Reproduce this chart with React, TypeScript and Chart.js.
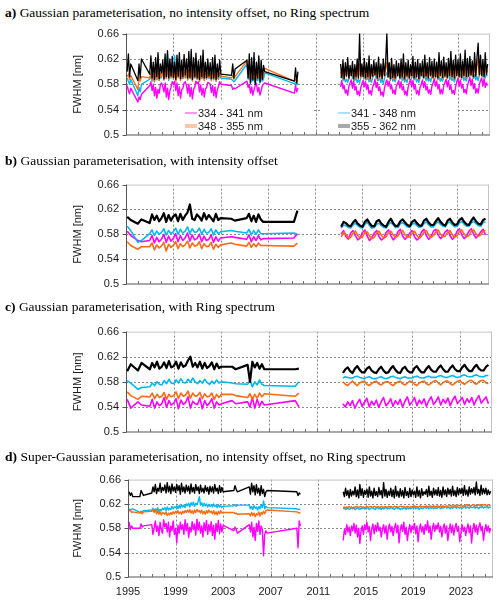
import { useEffect, useRef } from "react";
import { Chart, registerables } from "chart.js";

Chart.register(...registerables);

// ---- axes ----
const X_MIN = 1995;
const X_MAX = 2025.7;
const X_LABEL_YEARS = [1995, 1999, 2003, 2007, 2011, 2015, 2019, 2023];
const X_GRID_YEARS = [1999, 2003, 2007, 2011, 2015, 2019, 2023];
const Y_MIN = 0.5;
const Y_MAX = 0.66;
const Y_TICKS = [0.5, 0.54, 0.58, 0.62, 0.66];
const Y_GRID = [0.54, 0.58, 0.62];
const Y_TITLE = "FWHM [nm]";

// fitting windows, in legend order
const BANDS = ["334 - 341 nm", "341 - 348 nm", "348 - 355 nm", "355 - 362 nm"];

// ---- sampling of the record: [start year, end year, step] ----
type Seg = [number, number, number];
const EARLY_FINE: Seg[] = [
  [1995.1, 1995.4, 0.1], [1996.0, 1996.3, 0.1], [1997.0, 2003.0, 0.1],
  [2003.9, 2004.2, 0.1], [2005.2, 2006.7, 0.1], [2009.2, 2009.5, 0.1],
];
const LATE_FINE: Seg[] = [[2013.1, 2025.5, 0.1]];
const EARLY_COARSE: Seg[] = [
  [1995.1, 1995.4, 0.3], [1996.0, 1996.3, 0.3], [1997.0, 2003.0, 0.2],
  [2003.9, 2004.2, 0.3], [2005.2, 2006.6, 0.2], [2009.2, 2009.5, 0.3],
];
const LATE_COARSE: Seg[] = [[2013.2, 2025.4, 0.2]];
const GAP_YEAR = 2011;

// ---- FWHM values in pm ----
// a) Gaussian, no intensity offset, no Ring
const A_334_EARLY = [
  578, 570, 565, 574,
  552, 560, 556, 564,
  578, 584, 570, 580, 562, 575, 558, 572, 566, 580,
  582, 576, 568, 582, 560, 574, 556, 570, 575, 584,
  580, 585, 570, 582, 562, 576, 558, 571, 574, 582,
  584, 578, 566, 580, 561, 575, 557, 572, 576, 585,
  581, 584, 568, 579, 563, 574, 560, 573, 575, 583,
  582, 580, 567, 578, 562, 576, 559, 571, 577, 584,
  580,
  578, 572, 574, 573,
  585, 575, 580, 566, 576, 563, 572, 578, 582, 568, 575, 563, 570, 578, 580, 582,
  566, 578, 568, 574,
];
const A_334_LATE = [
  576, 586, 573, 578, 566, 571, 563, 577, 582,
  587, 574, 585, 571, 577, 564, 569, 562, 575, 581,
  586, 576, 584, 572, 579, 565, 570, 563, 576, 580,
  588, 575, 583, 570, 576, 563, 568, 561, 574, 582,
  587, 577, 585, 573, 578, 566, 571, 564, 577, 581,
  586, 574, 584, 571, 577, 564, 569, 562, 576, 583,
  588, 576, 586, 572, 579, 565, 570, 563, 575, 580,
  587, 575, 584, 571, 577, 566, 571, 564, 577, 582,
  589, 577, 585, 573, 579, 565, 572, 565, 578, 583,
  588, 576, 586, 572, 578, 566, 570, 564, 576, 584,
  590, 577, 587, 574, 580, 567, 572, 565, 578, 585,
  591, 578, 588, 573, 581, 566, 573, 566, 579, 586,
  590, 577, 589, 575, 582, 578,
];
const A_341_EARLY = [
  590, 585, 580, 588,
  562, 575, 568, 580,
  588, 595, 585, 593, 584, 597, 587, 605, 586, 593,
  590, 610, 587, 622, 589, 628, 586, 615, 590, 600,
  588, 625, 585, 618, 591, 612, 587, 600, 589, 597,
  590, 598, 587, 601, 589, 603, 586, 597, 590, 599,
  588, 596, 585, 599, 589, 601, 587, 595, 588, 597,
  589, 595, 586, 598, 587, 599, 585, 594, 588, 596,
  590,
  588, 586, 584, 586,
  612, 588, 594, 582, 592, 585, 595, 581, 590, 586, 593, 582, 590, 585, 588, 598,
  581, 583, 579, 582,
];
const A_341_LATE = [
  590, 597, 586, 591, 584, 588, 583, 590, 594,
  598, 589, 596, 586, 591, 583, 587, 582, 590, 595,
  597, 590, 595, 587, 592, 584, 588, 583, 591, 594,
  599, 589, 596, 586, 590, 583, 587, 581, 589, 595,
  598, 591, 597, 588, 593, 585, 589, 584, 592, 595,
  597, 589, 596, 586, 591, 584, 588, 583, 591, 596,
  599, 590, 597, 587, 592, 584, 588, 583, 590, 594,
  598, 589, 596, 586, 591, 585, 589, 584, 592, 596,
  600, 591, 597, 588, 593, 585, 590, 585, 593, 597,
  599, 590, 598, 587, 592, 586, 589, 584, 591, 597,
  601, 592, 598, 589, 594, 586, 591, 585, 593, 598,
  602, 593, 600, 589, 595, 587, 592, 586, 594, 599,
  601, 592, 600, 590, 596, 594,
];
const A_348_EARLY = [
  592, 596, 588, 594,
  572, 590, 585, 592,
  590, 598, 586, 596, 584, 600, 588, 602, 586, 597,
  592, 600, 587, 604, 590, 606, 588, 600, 591, 603,
  589, 598, 585, 602, 590, 605, 586, 599, 589, 601,
  591, 600, 587, 604, 589, 606, 585, 600, 590, 603,
  588, 598, 585, 602, 589, 605, 586, 597, 589, 600,
  590, 597, 586, 601, 588, 603, 585, 596, 589, 599,
  593,
  590, 594, 588, 592,
  617, 592, 605, 586, 600, 588, 604, 584, 598, 589, 602, 585, 599, 588, 596, 605,
  585, 588, 583, 586,
];
const A_348_LATE = [
  600, 590, 606, 587, 602, 592, 610, 588, 600,
  594, 605, 586, 602, 590, 608, 588, 612, 590, 603,
  592, 607, 587, 603, 589, 610, 585, 602, 591, 606,
  594, 604, 586, 609, 590, 603, 587, 607, 592, 605,
  615, 591, 603, 586, 608, 589, 601, 587, 605, 593,
  602, 588, 607, 590, 612, 586, 603, 591, 606, 588,
  601, 592, 609, 588, 603, 590, 606, 587, 602, 593,
  605, 589, 611, 591, 603, 587, 608, 592, 604, 589,
  607, 590, 603, 587, 614, 592, 605, 588, 609, 591,
  603, 589, 608, 592, 616, 590, 605, 587, 611, 593,
  606, 591, 613, 588, 604, 592, 618, 589, 607, 592,
  610, 594, 604, 590, 615, 592, 608, 620, 593, 611,
  593, 606, 591, 614, 596, 602,
];
const A_355_EARLY = [
  600, 628, 592, 612,
  586, 612, 590, 620,
  596, 625, 590, 615, 588, 622, 592, 630, 589, 612,
  598, 618, 589, 628, 592, 633, 590, 620, 593, 624,
  591, 615, 588, 626, 593, 630, 589, 618, 592, 627,
  595, 620, 590, 632, 591, 635, 588, 622, 592, 629,
  590, 617, 588, 625, 592, 634, 590, 615, 591, 620,
  593, 614, 589, 622, 590, 626, 588, 612, 592, 618,
  596,
  594, 612, 590, 604,
  618, 590, 628, 582, 622, 587, 630, 580, 615, 590, 625, 584, 618, 588, 610, 600,
  585, 606, 582, 600,
];
const A_355_LATE = [
  612, 591, 618, 589, 614, 593, 622, 590, 610,
  594, 616, 589, 611, 592, 620, 590, 660, 593, 612,
  592, 621, 590, 614, 592, 625, 589, 611, 593, 618,
  595, 614, 590, 623, 592, 612, 589, 620, 594, 616,
  660, 592, 614, 589, 621, 591, 611, 590, 617, 594,
  613, 590, 620, 592, 628, 589, 614, 593, 618, 590,
  611, 594, 624, 590, 615, 592, 619, 589, 613, 594,
  617, 591, 626, 593, 614, 590, 622, 594, 616, 591,
  620, 592, 615, 590, 630, 594, 617, 591, 623, 593,
  614, 591, 621, 594, 632, 592, 618, 590, 626, 594,
  619, 592, 628, 591, 617, 594, 634, 592, 621, 593,
  624, 595, 617, 592, 630, 593, 622, 645, 595, 626,
  594, 619, 592, 630, 596, 612,
];

// b) Gaussian, with intensity offset
const B_334_EARLY = [
  585, 578, 570, 568,
  570, 578, 566, 575, 568, 572, 580, 567, 577, 569,
  573, 581, 568, 578, 570, 574, 582, 569, 579, 571,
  573, 580, 568, 577, 570, 572, 579, 567, 576, 569,
  574,
  576, 575,
  572, 579, 568, 576, 570, 578, 571, 573,
  574, 581,
];
const B_334_LATE = [
  580, 586, 576, 572,
  582, 586, 578, 571, 574,
  583, 587, 577, 570, 575,
  582, 586, 576, 571, 574,
  583, 587, 578, 571, 575,
  584, 588, 577, 572, 576,
  582, 586, 576, 571, 574,
  584, 588, 578, 572, 576,
  585, 588, 579, 573, 577,
  584, 587, 578, 572, 576,
  585, 589, 579, 573, 577,
  585, 589, 580, 574, 578,
  584, 588, 579,
];
const B_341_EARLY = [
  593, 586, 567, 570,
  581, 587, 578, 585, 580, 583, 589, 579, 586, 581,
  584, 590, 580, 588, 582, 585, 592, 581, 589, 583,
  584, 590, 580, 588, 582, 583, 589, 579, 587, 581,
  584,
  586, 585,
  582, 588, 579, 586, 580, 587, 581, 581,
  582, 580,
];
const B_341_LATE = [
  590, 595, 594, 591,
  590, 595, 598, 594, 591,
  590, 596, 599, 594, 590,
  591, 596, 598, 594, 591,
  590, 596, 599, 595, 591,
  591, 597, 599, 595, 592,
  591, 596, 598, 594, 591,
  592, 597, 600, 595, 592,
  592, 597, 600, 596, 593,
  592, 598, 600, 595, 592,
  593, 598, 601, 596, 593,
  593, 598, 601, 597, 594,
  593, 599, 600,
];
const B_348_EARLY = [
  568, 562, 556, 560,
  560, 566, 555, 563, 558, 561, 567, 553, 564, 559,
  562, 568, 557, 565, 560, 563, 569, 558, 566, 561,
  562, 568, 557, 565, 560, 561, 567, 556, 564, 559,
  563,
  566, 564,
  561, 567, 559, 565, 560, 566, 562, 562,
  561, 566,
];
const B_348_LATE = [
  576, 583, 580, 574,
  575, 582, 585, 578, 574,
  576, 583, 584, 577, 573,
  575, 582, 585, 578, 574,
  576, 583, 585, 579, 575,
  577, 584, 586, 579, 575,
  576, 582, 585, 578, 574,
  577, 584, 586, 579, 575,
  578, 584, 587, 580, 576,
  577, 583, 586, 579, 575,
  578, 585, 587, 580, 576,
  578, 585, 587, 581, 577,
  579, 585, 586,
];
const B_355_EARLY = [
  608, 603, 597, 604,
  598, 612, 603, 610, 601, 606, 614, 600, 611, 602,
  609, 612, 601, 613, 603, 610, 615, 628, 605, 603,
  612, 608, 602, 614, 604, 611, 606, 601, 613, 603,
  606,
  605, 602,
  606, 613, 601, 610, 600, 612, 604, 600,
  600, 618,
];
const B_355_LATE = [
  592, 600, 598, 594,
  593, 599, 603, 597, 594,
  592, 600, 604, 598, 593,
  593, 601, 603, 597, 594,
  592, 600, 605, 598, 593,
  594, 601, 604, 599, 595,
  593, 600, 603, 598, 594,
  594, 602, 605, 599, 595,
  595, 601, 606, 600, 596,
  594, 602, 605, 599, 595,
  596, 603, 606, 600, 596,
  595, 602, 607, 601, 597,
  596, 603, 605,
];

// c) Gaussian, with Ring spectrum
const C_334_EARLY = [
  552, 538, 548, 543,
  541, 552, 538, 548, 542, 545, 555, 539, 550, 543,
  546, 553, 537, 551, 544, 547, 556, 538, 549, 545,
  544, 554, 537, 550, 542, 546, 553, 538, 548, 543,
  545,
  550, 545,
  548, 540, 555, 538, 552, 541, 549, 543,
  550, 540,
];
const C_334_LATE = [
  545, 540, 548, 542,
  550, 538, 546, 552, 541,
  547, 554, 540, 549, 543,
  551, 539, 548, 555, 542,
  546, 553, 541, 550, 544,
  552, 540, 549, 556, 543,
  548, 555, 542, 551, 545,
  553, 541, 550, 556, 544,
  549, 556, 543, 552, 546,
  554, 542, 551, 557, 545,
  550, 555, 544, 553, 547,
  555, 543, 552, 558, 546,
  551, 556, 545,
];
const C_341_EARLY = [
  582, 578, 568, 571,
  572, 578, 574, 580, 576, 575, 582, 577, 584, 578,
  577, 583, 578, 585, 579, 578, 584, 579, 586, 580,
  577, 582, 578, 584, 579, 576, 581, 577, 583, 578,
  580,
  578, 577,
  576, 582, 572, 580, 575, 583, 576, 574,
  573, 580,
];
const C_341_LATE = [
  586, 588, 587, 586,
  586, 588, 589, 587, 586,
  585, 587, 588, 586, 585,
  585, 587, 588, 586, 585,
  586, 588, 589, 587, 586,
  585, 587, 588, 586, 586,
  586, 588, 589, 587, 586,
  586, 588, 589, 587, 587,
  587, 589, 590, 588, 587,
  587, 589, 590, 588, 587,
  588, 590, 591, 589, 588,
  588, 590, 591, 589, 588,
  588, 590, 590,
];
const C_348_EARLY = [
  564, 558, 552, 557,
  556, 562, 553, 560, 555, 557, 563, 552, 560, 556,
  558, 564, 553, 562, 557, 559, 565, 554, 562, 557,
  558, 563, 553, 561, 556, 557, 562, 552, 560, 555,
  560,
  560, 558,
  555, 561, 552, 560, 554, 562, 556, 561,
  557, 562,
];
const C_348_LATE = [
  580, 576, 574, 578,
  581, 577, 574, 578, 580,
  581, 576, 574, 577, 580,
  581, 577, 575, 578, 580,
  580, 576, 574, 577, 580,
  581, 577, 575, 578, 581,
  580, 576, 574, 578, 580,
  581, 577, 575, 578, 581,
  582, 578, 575, 579, 581,
  581, 577, 575, 578, 581,
  582, 578, 576, 579, 582,
  582, 578, 576, 580, 582,
  582, 578, 577,
];
const C_355_EARLY = [
  597, 608, 598, 610,
  600, 610, 603, 612, 601, 604, 611, 602, 613, 603,
  605, 612, 601, 611, 604, 606, 614, 620, 604, 610,
  603, 612, 601, 610, 602, 605, 611, 600, 609, 602,
  604,
  604, 600,
  607, 580, 612, 603, 610, 601, 608, 600,
  600, 601,
];
const C_355_LATE = [
  594, 600, 603, 597,
  594, 601, 605, 599, 595,
  595, 601, 604, 598, 595,
  594, 600, 604, 598, 594,
  595, 601, 605, 599, 595,
  594, 601, 604, 598, 595,
  595, 602, 605, 599, 595,
  595, 601, 605, 599, 596,
  596, 602, 606, 600, 596,
  596, 602, 606, 600, 597,
  597, 603, 607, 601, 597,
  597, 603, 607, 601, 598,
  598, 604, 607,
];

// d) Super-Gaussian, no intensity offset, no Ring
const D_334_EARLY = [
  590, 578, 584, 580,
  580, 587, 582, 584,
  586, 570, 580, 592, 575, 584, 568, 590, 578, 572,
  594, 582, 588, 574, 590, 566, 584, 576, 592, 570,
  580, 556, 585, 572, 590, 578, 586, 570, 594, 576,
  588, 565, 582, 574, 591, 578, 587, 569, 595, 577,
  590, 572, 584, 566, 589, 576, 593, 570, 586, 575,
  591, 568, 585, 562, 588, 575, 593, 571, 587, 574,
  585,
  576, 582, 578, 572,
  586, 574, 590, 566, 582, 560, 588, 575, 592, 570, 584, 578, 535, 570, 576, 572,
  580, 548, 592, 584,
];
const D_334_LATE = [
  560, 578, 570, 586, 574, 582, 568, 584, 576,
  588, 572, 585, 566, 580, 555, 576, 584, 570, 586,
  578, 590, 574, 583, 560, 579, 587, 571, 585, 575,
  589, 576, 582, 566, 578, 586, 572, 584, 562, 580,
  587, 574, 583, 568, 580, 588, 573, 585, 556, 578,
  586, 575, 590, 570, 582, 560, 577, 586, 573, 584,
  578, 588, 571, 584, 558, 579, 587, 574, 583, 570,
  586, 577, 592, 573, 584, 562, 580, 588, 575, 585,
  579, 589, 574, 583, 566, 580, 587, 572, 584, 560,
  576, 587, 573, 585, 569, 581, 588, 575, 583, 558,
  572, 586, 575, 582, 568, 579, 587, 573, 584, 556,
  578, 588, 574, 585, 570, 582, 589, 576, 583, 560,
  577, 586, 575, 584, 573, 580,
];
const D_341_EARLY = [
  612, 610, 611, 612,
  606, 608, 607, 609,
  610, 613, 608, 612, 609, 614, 607, 611, 609, 613,
  611, 614, 609, 615, 610, 613, 611, 616, 612, 615,
  614, 617, 612, 618, 613, 619, 615, 618, 614, 620,
  617, 621, 615, 622, 618, 623, 616, 621, 619, 624,
  632, 618, 622, 616, 621, 617, 620, 615, 619, 616,
  619, 615, 620, 616, 618, 614, 619, 615, 617, 614,
  616,
  617, 619, 616, 618,
  618, 612, 616, 611, 617, 613, 615, 610, 616, 612, 618, 614, 625, 612, 616, 614,
  612, 611, 611, 612,
];
const D_341_LATE = [
  612, 613, 611, 612, 613, 611, 612, 614, 612,
  613, 611, 612, 614, 612, 611, 613, 612, 614, 612,
  612, 614, 613, 611, 612, 614, 613, 612, 611, 613,
  614, 612, 613, 611, 614, 612, 613, 615, 612, 613,
  612, 614, 613, 612, 611, 613, 614, 612, 613, 611,
  613, 612, 614, 613, 611, 614, 612, 613, 612, 614,
  613, 615, 612, 614, 613, 611, 614, 613, 612, 614,
  614, 613, 615, 612, 614, 613, 615, 612, 614, 613,
  613, 615, 614, 612, 615, 613, 614, 616, 613, 614,
  614, 612, 615, 613, 614, 616, 613, 615, 614, 613,
  615, 613, 614, 616, 613, 615, 614, 613, 616, 614,
  614, 616, 613, 615, 614, 612, 615, 614, 616, 613,
  615, 614, 616, 613, 615, 614,
];
const D_348_EARLY = [
  608, 610, 606, 607,
  605, 606, 604, 607,
  608, 611, 606, 610, 604, 609, 603, 607, 602, 606,
  605, 603, 607, 601, 605, 602, 606, 603, 607, 604,
  608, 605, 609, 604, 607, 603, 608, 605, 609, 606,
  610, 606, 611, 605, 609, 604, 610, 606, 611, 607,
  609, 605, 610, 604, 608, 603, 609, 605, 610, 606,
  608, 604, 609, 603, 607, 602, 608, 604, 609, 605,
  606,
  606, 604, 605, 603,
  604, 600, 606, 601, 605, 599, 604, 602, 607, 600, 606, 603, 608, 604, 609, 610,
  607, 606, 605, 606,
];
const D_348_LATE = [
  614, 615, 613, 615, 614, 616, 614, 615, 613,
  615, 614, 616, 615, 614, 615, 616, 614, 615, 614,
  615, 616, 614, 615, 616, 615, 614, 616, 615, 614,
  616, 615, 614, 616, 615, 614, 616, 615, 614, 616,
  615, 616, 615, 614, 616, 615, 616, 614, 615, 616,
  616, 615, 616, 614, 615, 616, 615, 614, 616, 615,
  616, 617, 615, 616, 614, 616, 617, 615, 616, 615,
  616, 617, 615, 616, 617, 616, 615, 617, 616, 615,
  617, 616, 615, 617, 616, 617, 615, 616, 617, 616,
  617, 618, 616, 617, 616, 618, 617, 616, 618, 617,
  618, 617, 616, 618, 617, 619, 617, 618, 616, 618,
  618, 619, 617, 618, 617, 619, 618, 617, 619, 618,
  619, 618, 617, 619, 618, 617,
];
const D_355_EARLY = [
  640, 634, 638, 632,
  632, 642, 638, 634,
  638, 648, 640, 652, 637, 646, 641, 654, 639, 647,
  642, 651, 638, 655, 640, 649, 637, 653, 641, 648,
  639, 652, 642, 650, 636, 654, 640, 648, 638, 651,
  641, 649, 637, 653, 640, 647, 638, 652, 642, 648,
  637, 651, 640, 646, 638, 650, 641, 647, 636, 649,
  640, 648, 638, 652, 641, 646, 637, 650, 639, 647,
  640,
  642, 650, 644, 640,
  648, 636, 654, 640, 650, 635, 652, 638, 646, 634, 650, 637, 644, 632, 640, 642,
  640, 634, 638, 636,
];
const D_355_LATE = [
  640, 632, 646, 634, 642, 630, 644, 633, 641,
  635, 648, 632, 643, 630, 652, 634, 645, 631, 642,
  636, 644, 631, 648, 633, 641, 630, 646, 634, 640,
  632, 647, 635, 642, 630, 655, 633, 644, 631, 641,
  634, 646, 632, 643, 630, 649, 633, 641, 631, 645,
  633, 642, 630, 647, 634, 640, 631, 646, 632, 643,
  635, 641, 631, 648, 633, 642, 630, 645, 634, 640,
  636, 644, 632, 649, 634, 641, 631, 646, 635, 643,
  634, 647, 633, 642, 631, 648, 635, 643, 632, 646,
  636, 644, 633, 649, 634, 642, 632, 647, 635, 645,
  637, 646, 634, 650, 635, 643, 633, 648, 636, 645,
  638, 647, 635, 656, 637, 644, 634, 651, 636, 645,
  637, 646, 635, 643, 636, 641,
];

// ---- styling ----
const FONT_SANS = "'Liberation Sans', Arial, sans-serif";
const FONT_SERIF = "'Liberation Serif', 'Times New Roman', serif";
const COLORS = ["#FF00FF", "#00B8F0", "#FF6A10", "#000000"]; // 334, 341, 348, 355
const SWATCH = [
  { color: "#FF70FF", width: 1.5 },
  { color: "#80DCFF", width: 1.5 },
  { color: "#FFC8A4", width: 4 },
  { color: "#A8A8A8", width: 4 },
];
const PAD_TOP = 10;
const PAD_BOTTOM = 24;

function sampleTimes(segs: Seg[]): number[] {
  const out: number[] = [];
  for (const [a, b, s] of segs) {
    const n = Math.round((b - a) / s) + 1;
    for (let i = 0; i < n; i++) out.push(Math.round((a + i * s) * 100) / 100);
  }
  return out;
}

function buildSeries(early: number[], late: number[], fine: boolean) {
  const te = sampleTimes(fine ? EARLY_FINE : EARLY_COARSE);
  const tl = sampleTimes(fine ? LATE_FINE : LATE_COARSE);
  const pts: { x: number; y: number | null }[] = [];
  te.forEach((t, i) => pts.push({ x: t, y: early[i] == null ? null : early[i] / 1000 }));
  pts.push({ x: GAP_YEAR, y: null });
  tl.forEach((t, i) => pts.push({ x: t, y: late[i] == null ? null : late[i] / 1000 }));
  return pts;
}

type PanelCfg = {
  tag: string;
  title: string;
  titleTop: number;
  top: number;
  bottom: number;
  left: number;
  right: number;
  fine: boolean;
  early: number[][]; // 334, 341, 348, 355
  late: number[][];
  widths: number[];
  legend: boolean;
  xLabels: boolean;
};

const PANELS: PanelCfg[] = [
  {
    tag: "a)", title: "Gaussian parameterisation, no intensity offset, no Ring spectrum",
    titleTop: 5, top: 30, bottom: 135, left: 126, right: 490, fine: true,
    early: [A_334_EARLY, A_341_EARLY, A_348_EARLY, A_355_EARLY],
    late: [A_334_LATE, A_341_LATE, A_348_LATE, A_355_LATE],
    widths: [1.4, 1.4, 1.3, 1.3], legend: true, xLabels: false,
  },
  {
    tag: "b)", title: "Gaussian parameterisation, with intensity offset",
    titleTop: 153, top: 181, bottom: 284, left: 126, right: 489, fine: false,
    early: [B_334_EARLY, B_341_EARLY, B_348_EARLY, B_355_EARLY],
    late: [B_334_LATE, B_341_LATE, B_348_LATE, B_355_LATE],
    widths: [1.6, 1.6, 1.6, 2.2], legend: false, xLabels: false,
  },
  {
    tag: "c)", title: "Gaussian parameterisation, with Ring spectrum",
    titleTop: 299, top: 328, bottom: 432, left: 126, right: 492, fine: false,
    early: [C_334_EARLY, C_341_EARLY, C_348_EARLY, C_355_EARLY],
    late: [C_334_LATE, C_341_LATE, C_348_LATE, C_355_LATE],
    widths: [1.6, 1.6, 1.6, 2.2], legend: false, xLabels: false,
  },
  {
    tag: "d)", title: "Super-Gaussian parameterisation, no intensity offset, no Ring spectrum",
    titleTop: 449, top: 476, bottom: 577, left: 128, right: 493, fine: true,
    early: [D_334_EARLY, D_341_EARLY, D_348_EARLY, D_355_EARLY],
    late: [D_334_LATE, D_341_LATE, D_348_LATE, D_355_LATE],
    widths: [1.4, 1.4, 1.4, 1.4], legend: false, xLabels: true,
  },
];

// grid, frame, inward year ticks, y-axis title and (optionally) the legend
const framePlugin = {
  id: "frame",
  beforeDatasetsDraw(chart: any, _args: any, opts: any) {
    const { ctx, chartArea: a, scales } = chart;
    const x = scales.x;
    const y = scales.y;
    const line = (x1: number, y1: number, x2: number, y2: number) => {
      ctx.beginPath();
      ctx.moveTo(x1, y1);
      ctx.lineTo(x2, y2);
      ctx.stroke();
    };
    ctx.save();
    ctx.strokeStyle = "#8a8a8a";
    ctx.lineWidth = 1;
    ctx.setLineDash([2, 2]);
    for (const v of Y_GRID) {
      const py = Math.round(y.getPixelForValue(v)) + 0.5;
      line(a.left, py, a.right, py);
    }
    for (const yr of X_GRID_YEARS) {
      const px = Math.round(x.getPixelForValue(yr)) + 0.5;
      line(px, a.top, px, a.bottom);
    }
    ctx.setLineDash([]);

    if (opts.legend) {
      // legend sits in the lower part of the plot area, rows relative to its bottom
      const r2 = a.bottom - 9;
      const r1 = r2 - 13;
      ctx.fillStyle = "#ffffff";
      ctx.fillRect(172, r1 - 12, 141, 30);
      ctx.fillRect(321, r1 - 12, 137, 30);
      ctx.font = `11px ${FONT_SANS}`;
      ctx.textBaseline = "middle";
      ctx.textAlign = "left";
      const slots = [
        { x: 185, y: r1 }, { x: 338, y: r1 },
        { x: 185, y: r2 }, { x: 338, y: r2 },
      ];
      BANDS.forEach((name, i) => {
        const s = slots[i];
        ctx.strokeStyle = SWATCH[i].color;
        ctx.lineWidth = SWATCH[i].width;
        line(s.x, s.y, s.x + 12, s.y);
        ctx.fillStyle = "#1a1a1a";
        ctx.fillText(name, s.x + 13, s.y + 0.5);
      });
    }

    // frame
    ctx.lineWidth = 1;
    ctx.strokeStyle = "#c4c4c4";
    line(a.left, a.top + 0.5, a.right, a.top + 0.5);
    line(a.right - 0.5, a.top, a.right - 0.5, a.bottom);
    ctx.strokeStyle = "#8c8c8c";
    ctx.lineWidth = 1.5;
    line(a.left, a.bottom, a.right, a.bottom);
    ctx.lineWidth = 1;
    ctx.strokeStyle = "#555555";
    const lx = Math.round(a.left) + 0.5;
    line(lx, a.top, lx, a.bottom);
    for (const v of Y_TICKS) {
      const py = Math.round(y.getPixelForValue(v)) + 0.5;
      line(lx - 4, py, lx, py);
    }
    ctx.strokeStyle = "#707070";
    for (let yr = X_MIN + 1; yr < X_MAX; yr++) {
      const px = Math.round(x.getPixelForValue(yr)) + 0.5;
      line(px, a.bottom, px, a.bottom - 3);
    }
    ctx.restore();
  },
  afterDraw(chart: any) {
    const { ctx, chartArea: a } = chart;
    ctx.save();
    ctx.font = `11px ${FONT_SANS}`;
    ctx.fillStyle = "#1a1a1a";
    ctx.textAlign = "center";
    ctx.textBaseline = "middle";
    ctx.translate(78, (a.top + a.bottom) / 2);
    ctx.rotate(-Math.PI / 2);
    ctx.fillText(Y_TITLE, 0, 0);
    ctx.restore();
  },
};

function Panel({ cfg }: { cfg: PanelCfg }) {
  const ref = useRef<HTMLCanvasElement>(null);
  const h = cfg.bottom - cfg.top + PAD_TOP + PAD_BOTTOM;

  useEffect(() => {
    const order = [3, 2, 1, 0]; // 355 nm drawn on top
    const datasets = order.map((k) => ({
      label: BANDS[k],
      data: buildSeries(cfg.early[k], cfg.late[k], cfg.fine),
      borderColor: COLORS[k],
      backgroundColor: COLORS[k],
      borderWidth: cfg.widths[k],
      borderJoinStyle: "round" as const,
      pointRadius: 0,
      tension: 0,
      spanGaps: false,
    }));
    const chart = new Chart(ref.current!, {
      type: "line",
      data: { datasets },
      plugins: [framePlugin],
      options: {
        animation: false,
        responsive: false,
        maintainAspectRatio: false,
        events: [],
        layout: { padding: { top: PAD_TOP, left: 0, right: 500 - cfg.right, bottom: 0 } },
        plugins: {
          legend: { display: false },
          tooltip: { enabled: false },
          title: { display: false },
          frame: { legend: cfg.legend },
        } as any,
        scales: {
          x: {
            type: "linear",
            min: X_MIN,
            max: X_MAX,
            grid: { display: false, drawTicks: false },
            border: { display: false },
            afterBuildTicks: (s: any) => { s.ticks = X_LABEL_YEARS.map((value) => ({ value })); },
            afterFit: (s: any) => { s.height = PAD_BOTTOM; },
            ticks: {
              display: cfg.xLabels,
              autoSkip: false,
              maxRotation: 0,
              padding: 8,
              color: "#1a1a1a",
              font: { family: FONT_SANS, size: 11 },
              callback: (v: any) => String(v),
            },
          },
          y: {
            type: "linear",
            min: Y_MIN,
            max: Y_MAX,
            grid: { display: false, drawTicks: false },
            border: { display: false },
            afterBuildTicks: (s: any) => { s.ticks = Y_TICKS.map((value) => ({ value })); },
            afterFit: (s: any) => { s.width = cfg.left; },
            ticks: {
              padding: 7,
              color: "#1a1a1a",
              font: { family: FONT_SANS, size: 11 },
              callback: (v: any) => String(Math.round(v * 100) / 100),
            },
          },
        },
      },
    });
    return () => chart.destroy();
  }, [cfg]);

  return (
    <>
      <div
        style={{
          position: "absolute",
          left: 5,
          top: cfg.titleTop,
          fontFamily: FONT_SERIF,
          fontSize: 13.5,
          lineHeight: "15px",
          whiteSpace: "nowrap",
          color: "#000",
        }}
      >
        <b>{cfg.tag}</b> {cfg.title}
      </div>
      <canvas
        ref={ref}
        width={500}
        height={h}
        style={{ position: "absolute", left: 0, top: cfg.top - PAD_TOP, width: 500, height: h }}
      />
    </>
  );
}

export default function App() {
  return (
    <div style={{ position: "absolute", left: 0, top: 0, width: 500, height: 601, background: "#fff" }}>
      {PANELS.map((p) => (
        <Panel key={p.tag} cfg={p} />
      ))}
    </div>
  );
}
